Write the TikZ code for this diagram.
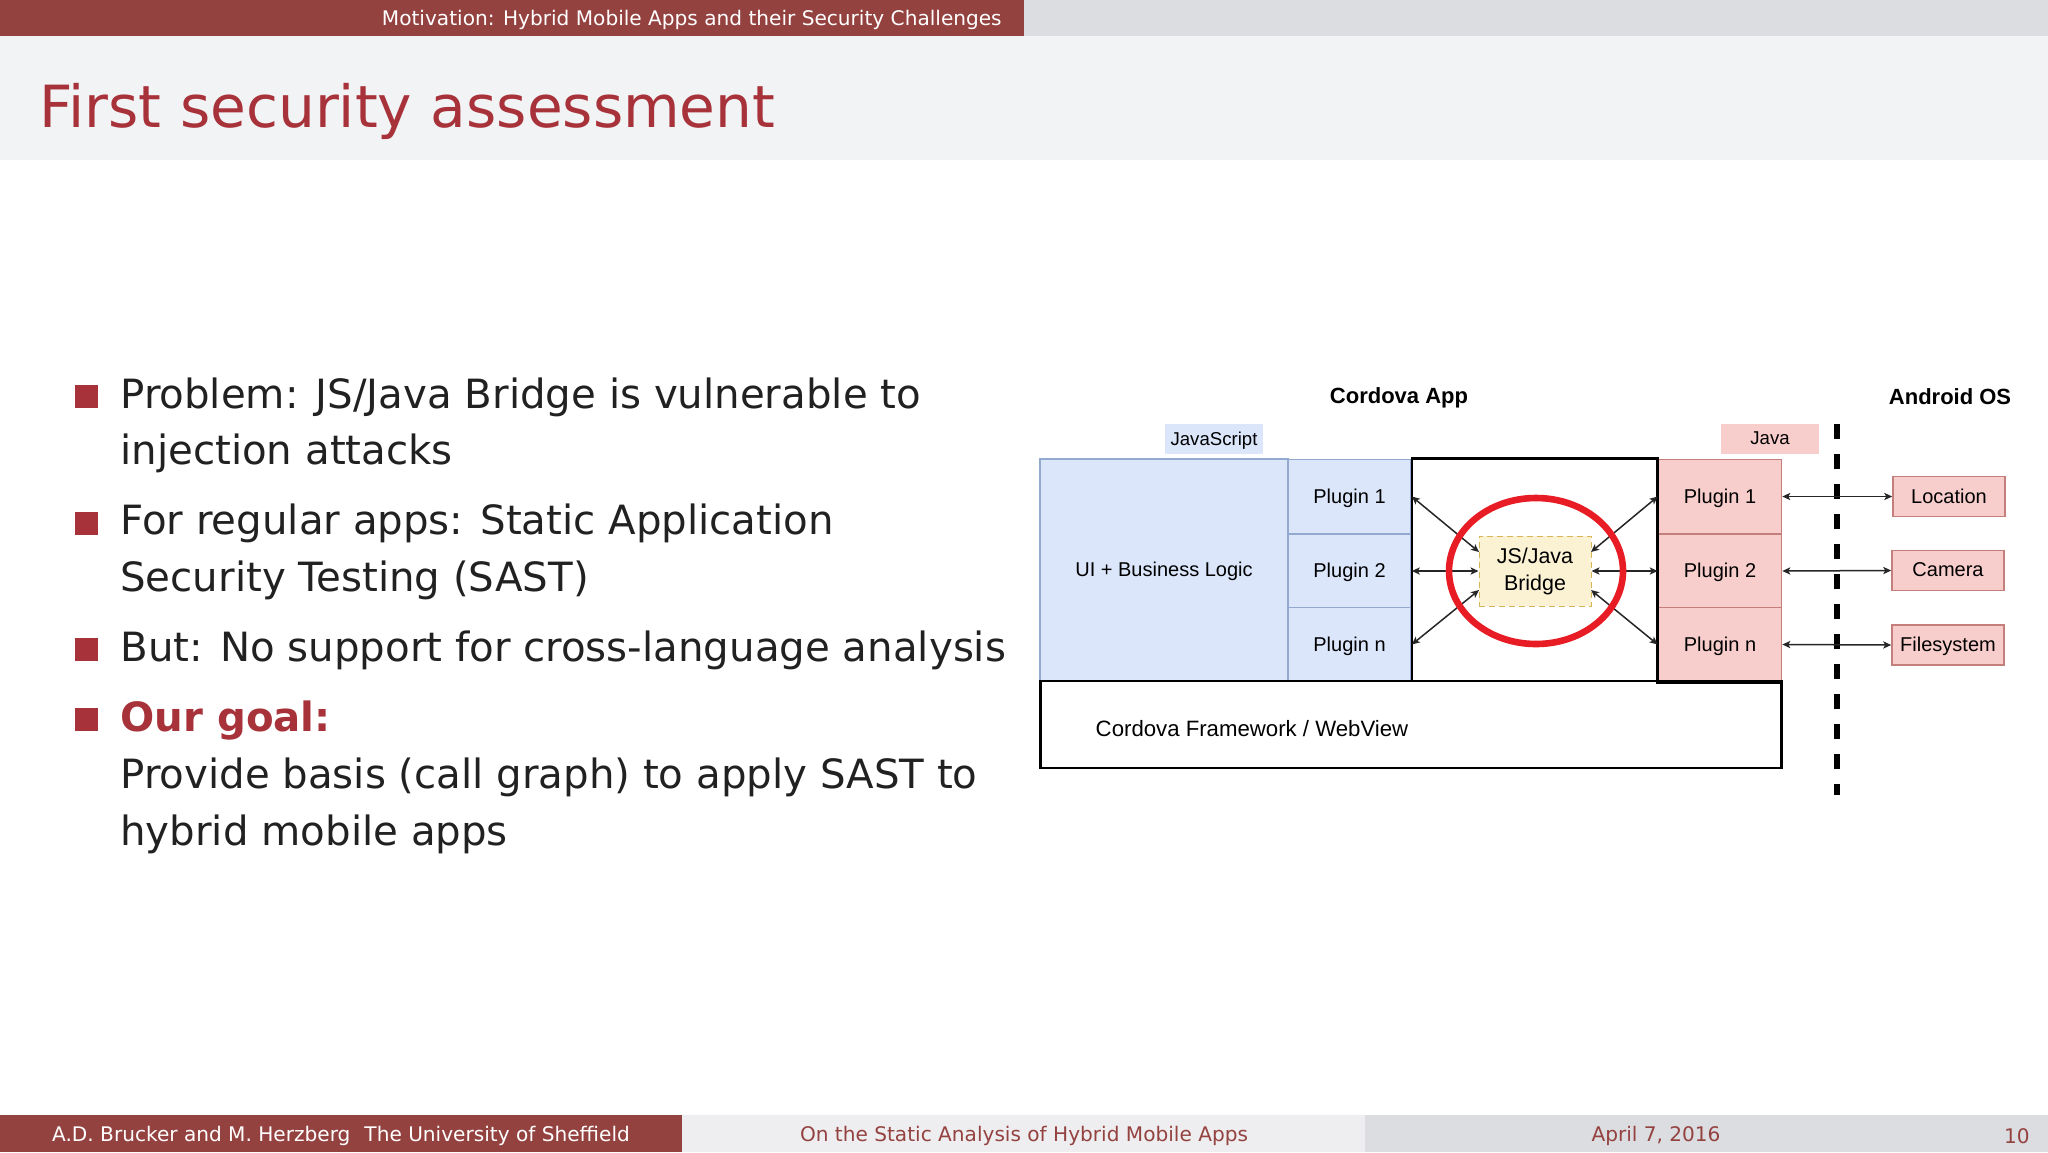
\documentclass[tikz,border=0pt]{standalone}
\usepackage{fontspec}
\setmainfont{DejaVu Sans}
\newfontfamily\helv{Liberation Sans}
\usetikzlibrary{shapes.geometric,arrows.meta}
\definecolor{barred}{HTML}{944240}
\definecolor{titlered}{HTML}{A8323A}
\definecolor{bandgray}{HTML}{DCDDE1}
\definecolor{bandlight}{HTML}{F1F3F5}
\definecolor{footlight}{HTML}{EEEEF0}
\definecolor{bluefill}{HTML}{DBE6FB}
\definecolor{blueline}{HTML}{94A9CF}
\definecolor{redfill}{HTML}{F8CECC}
\definecolor{redline}{HTML}{C47F7D}
\definecolor{yellowfill}{HTML}{FBF1D3}
\definecolor{yellowline}{HTML}{D6B656}
\tikzset{
    bodytext/.style={anchor=base west, inner sep=0, text=black!87, font=\fontsize{20.15}{24}\selectfont},
    foottext/.style={inner sep=0, font=\fontsize{10.05}{13}\selectfont},
    helvtext/.style={font=\helv\fontsize{10}{12}\selectfont, text depth=0.6pt},
    cell/.style={helvtext, inner sep=0, line width=0.8pt},
    jsbox/.style={cell, draw=blueline, fill=bluefill},
    javabox/.style={cell, draw=redline, fill=redfill},
    plugincell/.style={minimum width=61.5pt, minimum height=37pt},
    osbox/.style={javabox, minimum width=56pt, minimum height=20pt},
    langtag/.style={cell, minimum width=49pt, minimum height=15pt, font=\helv\fontsize{9.3}{12}\selectfont},
    heading/.style={inner sep=0, text depth=0pt, font=\helv\bfseries\fontsize{11}{13}\selectfont},
    link/.style={{Stealth[length=4pt,width=3.6pt,inset=1pt]}-{Stealth[length=4pt,width=3.6pt,inset=1pt]}, line width=0.75pt, black!85}
}
\begin{document}
\begin{tikzpicture}[x=0.5pt, y=-0.5pt]
    \useasboundingbox (0,0) rectangle (2048,1152);
    \fill[white] (0,0) rectangle (2048,1152);

    % Header and footer bands
    \fill[bandgray] (1024,0) rectangle (2048,36);
    \fill[barred] (0,0) rectangle (1024,36);
    \fill[bandlight] (0,36) rectangle (2048,160);
    \fill[barred] (0,1115) rectangle (682,1152);
    \fill[footlight] (682,1115) rectangle (1365,1152);
    \fill[bandgray] (1365,1115) rectangle (2048,1152);
    \node[anchor=east, inner sep=0, text=white, font=\fontsize{10.05}{13}\selectfont] (section) at (1002,20) {Motivation: Hybrid Mobile Apps and their Security Challenges};
    \node[anchor=base west, inner sep=0, text=titlered, font=\fontsize{29.07}{36}\selectfont] (title) at (39,127) {First security assessment};
    \node[foottext, text=white] (authors) at (341,1136) {A.D. Brucker and M. Herzberg\hspace{0.7em}The University of Sheffield};
    \node[foottext, text=barred] (talk) at (1024,1136) {On the Static Analysis of Hybrid Mobile Apps};
    \node[foottext, text=barred] (date) at (1656,1136) {April 7, 2016};
    \node[foottext, text=barred, anchor=east] (page) at (2030,1136) {10};

    % Bullets
    \foreach \y in {396.5,523,649,719} {
        \fill[titlered] (75,\y-11.5) rectangle ++(23,23);
    }
    \foreach \y/\t in {408/{Problem: JS/Java Bridge is vulnerable to}, 464/injection attacks,
        534/For regular apps: Static Application, 591/Security Testing (SAST),
        661/But: No support for cross-language analysis,
        788.5/Provide basis (call graph) to apply SAST to, 845/hybrid mobile apps} {
        \node[bodytext] at (120,\y) {\t};
    }
    \node[bodytext, text=titlered, font=\bfseries\fontsize{20.15}{24}\selectfont] (goal) at (120,731) {Our goal:};

    % Headings and language tags
    \node[heading] (app) at (1399,396) {Cordova App};
    \node[heading] (os) at (1950,397) {Android OS};
    \node[langtag, fill=bluefill] (jstag) at (1214,439) {JavaScript};
    \node[langtag, fill=redfill] (javatag) at (1770,439) {Java};

    % JavaScript side
    \node[jsbox, minimum width=124pt, minimum height=111pt] (logic) at (1164,570) {UI + Business Logic};
    \foreach \i/\y/\n in {1/496.5/1, 2/571/2, 3/644.5/n} {
        \node[jsbox, plugincell] (jsplug\i) at (1349.5,\y) {Plugin \n};
    }

    % Java side
    \foreach \i/\y/\n in {1/496.5/1, 2/571/2, 3/644.5/n} {
        \node[javabox, plugincell] (javaplug\i) at (1720,\y) {Plugin \n};
    }

    % Framework outline
    \node[draw=black, line width=1.25pt, inner sep=0, minimum width=370.5pt, minimum height=43.5pt] (frame) at (1411,724.5) {};
    \node[inner sep=0, text depth=0pt, font=\helv\fontsize{11.1}{13}\selectfont] (framelabel) at (1252,728) {Cordova Framework / WebView};
    \draw[line width=1.25pt, line join=miter] (jsplug3.south east) -- (jsplug1.north east) -- (javaplug1.north west) -- (javaplug3.south west) -- (javaplug3.south east);

    % Operating system side
    \node[osbox] (location) at (1949,496.5) {Location};
    \node[osbox] (camera) at (1948,570.5) {Camera};
    \node[osbox] (filesystem) at (1948,645) {Filesystem};
    \coordinate (bordertop) at (1837,424);
    \coordinate (borderbottom) at (1837,795);
    \draw[line width=2.6pt, dash pattern=on 7.5pt off 7.5pt] (bordertop) -- (borderbottom);

    % Bridge
    \node[draw=yellowline, fill=yellowfill, densely dashed, line width=0.5pt, minimum width=56pt, minimum height=35pt, inner sep=0, align=center, font=\helv\fontsize{10.7}{13.5}\selectfont] (bridge) at (1535,571.2) {JS/Java\\Bridge};
    \coordinate (bridgeleft1) at (1479,552);
    \coordinate (bridgeleft3) at (1479,590);
    \coordinate (bridgeright1) at (1591,552);
    \coordinate (bridgeright3) at (1591,590);

    % Links
    \draw[link] (jsplug1.east) -- (bridgeleft1);
    \draw[link] (jsplug2.east) -- (bridge.west |- jsplug2.east);
    \draw[link] (jsplug3.east) -- (bridgeleft3);
    \draw[link] (javaplug1.west) -- (bridgeright1);
    \draw[link] (javaplug2.west) -- (bridge.east |- javaplug2.west);
    \draw[link] (javaplug3.west) -- (bridgeright3);
    \draw[link] (javaplug1.east) -- (location.west);
    \draw[link] (javaplug2.east) -- (camera.west);
    \draw[link] (javaplug3.east) -- (filesystem.west);

    % Highlight
    \node[ellipse, draw={rgb,255:red,232;green,28;blue,36}, line width=3.3pt, inner sep=0, minimum width=87pt, minimum height=73pt] (focus) at (1536,571) {};
\end{tikzpicture}
\end{document}
